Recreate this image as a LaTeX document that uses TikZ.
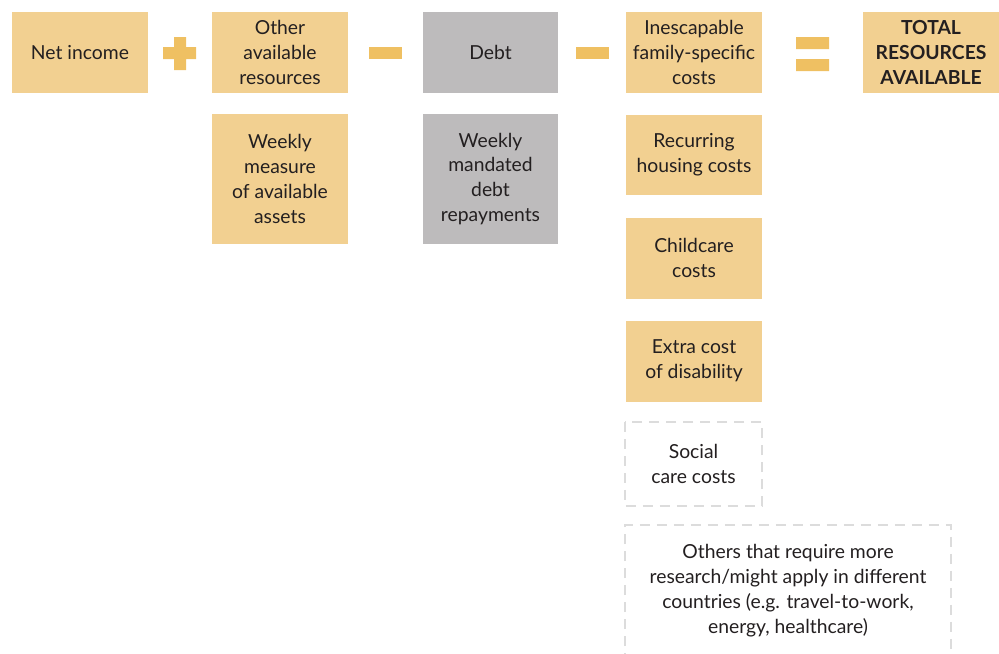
\documentclass[tikz,border=0pt]{standalone}
\usepackage{fontspec}
\setmainfont{Lato}
\definecolor{sand}{HTML}{F2D091}
\definecolor{opsand}{HTML}{EFC062}
\definecolor{debtgray}{HTML}{BDBBBC}
\definecolor{dashgray}{HTML}{DCDCDC}
\definecolor{ink}{HTML}{231F20}
\begin{document}
\begin{tikzpicture}[
    x=0.02cm,y=-0.02cm,
    box/.style={rectangle,fill=sand,text=ink,align=center,minimum width=2.72cm,minimum height=1.62cm,inner sep=0pt,font=\fontsize{11}{14.2}\selectfont},
    tall/.style={box,minimum height=2.6cm},
    grey/.style={fill=debtgray},
    op/.style={fill=opsand,draw=none},
    maybe/.style={draw=dashgray,line width=1.1pt,dash pattern=on 0.2cm off 0.14cm},
]
    \clip (0,0) rectangle (999,653);
    % top row
    \node[box] (netinc) at (80,52.5) {Net income};
    \node[box] (otherres) at (280,52.5) {Other\\available\\resources};
    \node[box,grey] (debt) at (490.5,52.5) {Debt};
    \node[box] (inesc) at (694,52.5) {Inescapable\\family-specific\\costs};
    \node[box,font=\fontsize{11}{14.2}\selectfont\bfseries] (total) at (931,52.5) {TOTAL\\RESOURCES\\AVAILABLE};
    % operators
    \fill[op] (163,47) rectangle (196,59) (174,37) rectangle (186,70);
    \fill[op] (369,47) rectangle (402,59);
    \fill[op] (576,47) rectangle (609,59);
    \fill[op] (796,37) rectangle (829,49) (796,59) rectangle (829,71);
    % components
    \node[tall] (assets) at (280,179) {Weekly\\measure\\of available\\assets};
    \node[tall,grey] (repay) at (490.5,179) {Weekly\\mandated\\debt\\repayments};
    \node[box] (housing) at (694,155) {Recurring\\housing costs};
    \node[box] (childcare) at (694,258) {Childcare\\costs};
    \node[box] (disab) at (694,361) {Extra cost\\of disability};
    % not yet included
    \draw[maybe] (625,422) rectangle (762,506);
    \node[box,fill=none] (social) at (693.5,464) {Social\\care costs};
    \draw[maybe] (625,680) -- (625,525) -- (951,525) -- (951,680);
    \node[box,fill=none] (others) at (788,591) {Others that require more\\research/might apply in different\\countries (e.g. travel-to-work,\\energy, healthcare)};
\end{tikzpicture}
\end{document}
